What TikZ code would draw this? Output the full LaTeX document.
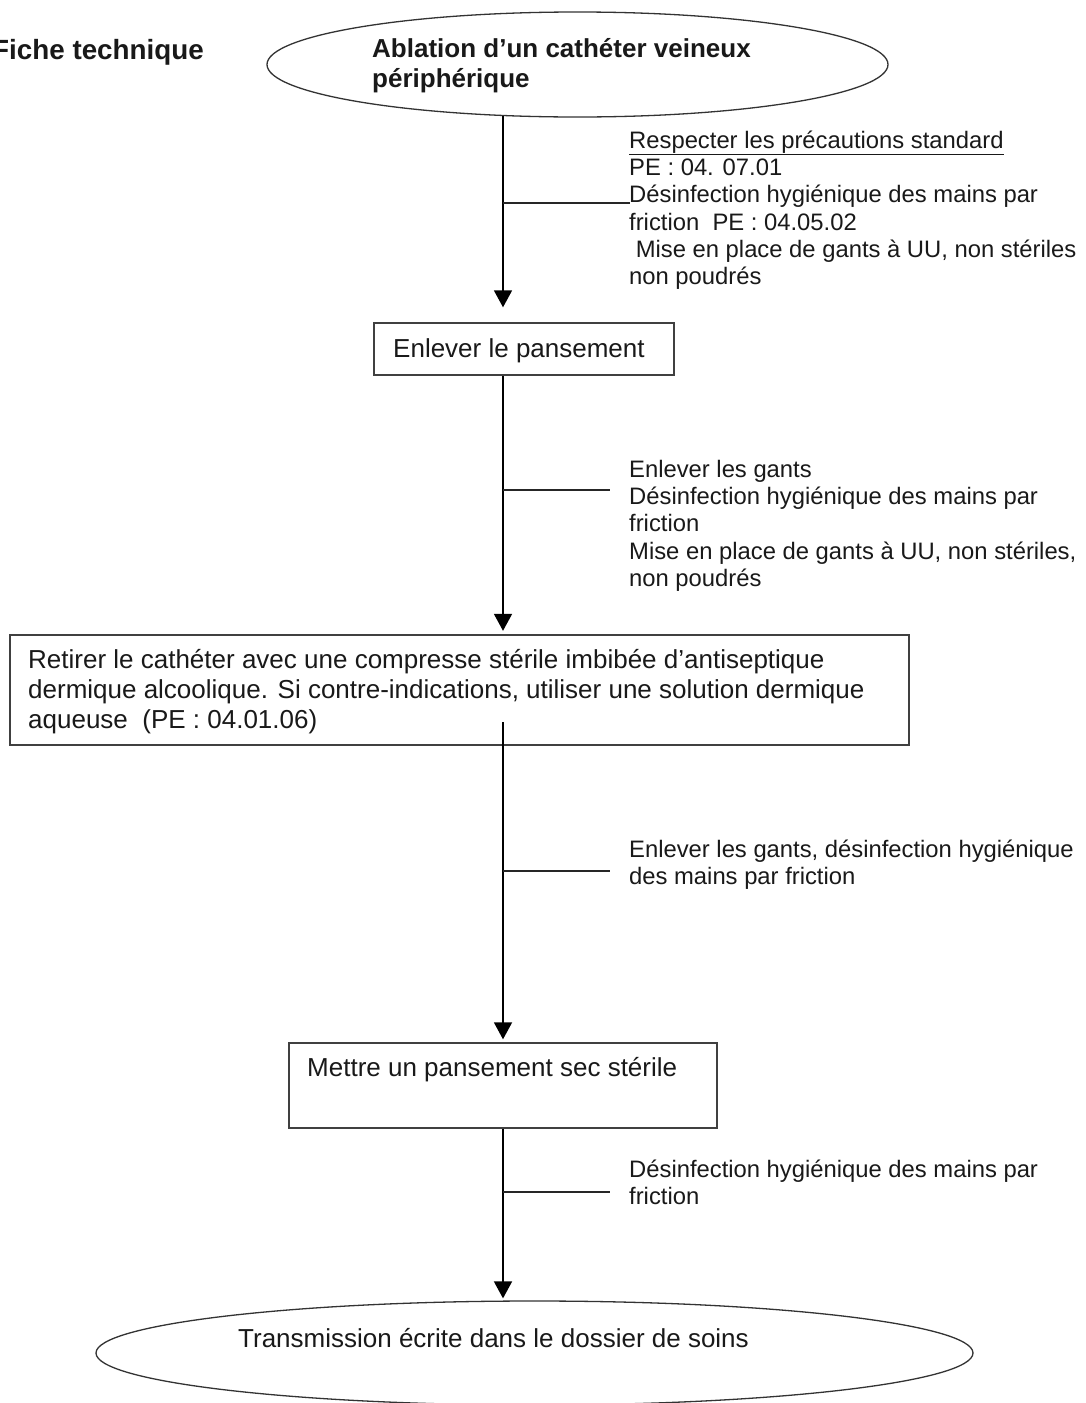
\documentclass[tikz,border=0pt]{standalone}
\usepackage{fontspec}
\setmainfont{Liberation Sans}
\usetikzlibrary{shapes.geometric,arrows.meta}
\newcommand{\annotfont}{\fontsize{23.8}{27.3}\selectfont}
\newcommand{\boxfont}{\fontsize{26}{30}\selectfont}
\tikzset{
  flowbox/.style={draw=black!75, line width=1.4pt, inner sep=0pt, rectangle},
  flowell/.style={draw=black!80, line width=1.3pt, inner sep=0pt, ellipse},
  conn/.style={draw=black, line width=1.8pt, -{Triangle[length=17pt,width=18pt]}},
  branch/.style={draw=black!85, line width=1.3pt},
  annot/.style={anchor=north west, align=left, inner sep=0pt, font=\annotfont, text=black!90},
  boxtext/.style={anchor=base west, inner sep=0pt, font=\boxfont, text=black!90},
}
\begin{document}
\begin{tikzpicture}[x=1pt,y=-1pt]
\useasboundingbox (0,0) rectangle (1086,1403);
\clip (0,0) rectangle (1086,1403);
\fill[white] (0,0) rectangle (1086,1403);

% title
\node[anchor=base west, inner sep=0pt, font=\fontsize{27.8}{32}\selectfont\bfseries, text=black!90] (title) at (-8,59) {Fiche technique};

% top ellipse
\node[flowell, minimum width=621pt, minimum height=105pt] (e1) at (577.5,64.5) {};
\node[anchor=north west, align=left, inner sep=0pt, font=\boxfont\bfseries, text=black!90] (e1t) at (372,36) {\strut Ablation d’un cathéter veineux\\périphérique};

% box 1
\node[flowbox, minimum width=300pt, minimum height=52pt] (b1) at (524,349) {};
\node[boxtext] (b1t) at (393,357) {Enlever le pansement};

% box 2
\node[flowbox, minimum width=899pt, minimum height=110pt] (b2) at (459.5,690) {};
\node[anchor=north west, align=left, inner sep=0pt, font=\boxfont, text=black!90] (b2t) at (28,647) {\strut Retirer le cathéter avec une compresse stérile imbibée d’antiseptique\\dermique alcoolique. Si contre-indications, utiliser une solution dermique\\aqueuse\ \ (PE : 04.01.06)};

% box 3
\node[flowbox, minimum width=428pt, minimum height=85pt] (b3) at (503,1085.5) {};
\node[boxtext] (b3t) at (307,1076) {Mettre un pansement sec stérile};

% bottom ellipse
\node[flowell, minimum width=877pt, minimum height=104pt] (e2) at (534.5,1353) {};
\node[boxtext] (e2t) at (238,1347) {Transmission écrite dans le dossier de soins};

% axis coordinates
\coordinate (s0) at (503,115.5);
\coordinate (s2) at (503,722);
\coordinate (j1) at (503,203);
\coordinate (j2) at (503,490);
\coordinate (j3) at (503,871);
\coordinate (j4) at (503,1192);
\coordinate (k1) at (630,203);
\coordinate (k2) at (610,490);
\coordinate (k3) at (610,871);
\coordinate (k4) at (610,1192);

% connectors
\draw[conn, shorten >=15pt] (s0) -- (s0 |- b1.north);
\draw[conn, shorten >=3.5pt] (b1.south -| s0) -- (s0 |- b2.north);
\draw[conn, shorten >=3pt] (s2) -- (s0 |- b3.north);
\draw[conn, shorten >=2pt] (b3.south -| s0) -- (s0 |- e2.north);

% branches
\draw[branch] (j1) -- (k1);
\draw[branch] (j2) -- (k2);
\draw[branch] (j3) -- (k3);
\draw[branch] (j4) -- (k4);

% annotations
\node[annot] (a1) at (629,128.9) {\strut\underline{Respecter les précautions standard}\\PE : 04. 07.01\\Désinfection hygiénique des mains par\\friction\ \ PE : 04.05.02\\\ Mise en place de gants à UU, non stériles\\non poudrés};
\node[annot] (a2) at (629,457.9) {\strut Enlever les gants\\Désinfection hygiénique des mains par\\friction\\Mise en place de gants à UU, non stériles,\\non poudrés};
\node[annot] (a3) at (629,837.9) {\strut Enlever les gants, désinfection hygiénique\\des mains par friction};
\node[annot] (a4) at (629,1157.9) {\strut Désinfection hygiénique des mains par\\friction};
\end{tikzpicture}
\end{document}
